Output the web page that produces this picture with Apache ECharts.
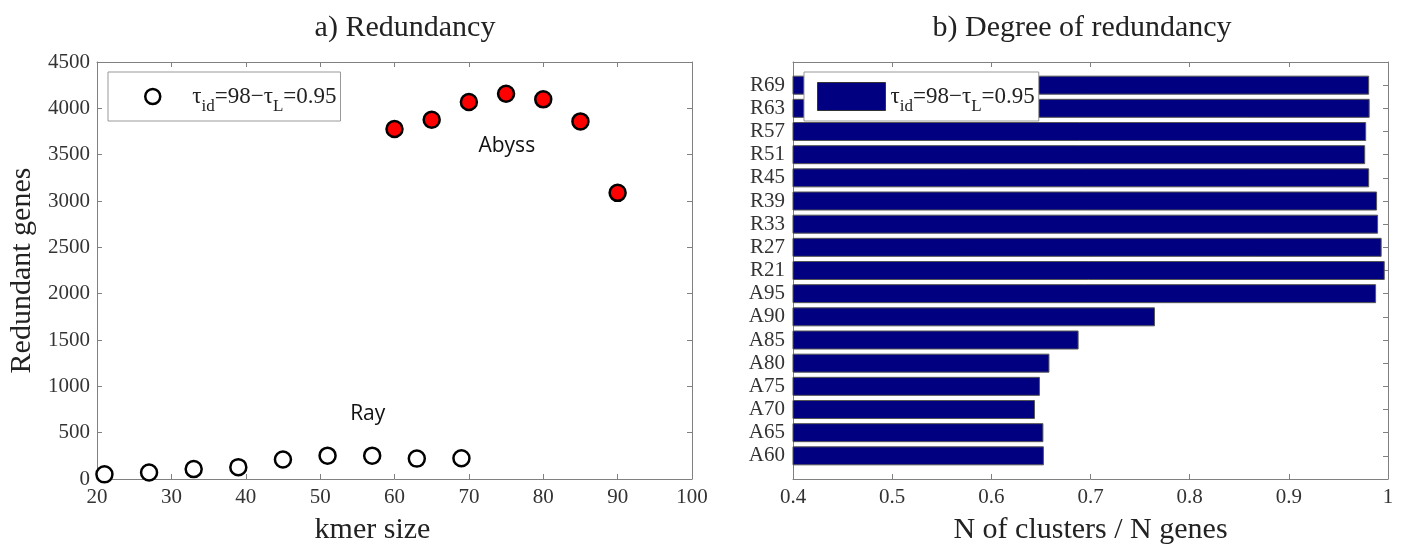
<!DOCTYPE html>
<html>
<head>
<meta charset="utf-8">
<script src="https://cdn.jsdelivr.net/npm/echarts@6/dist/echarts.min.js"></script>
<style>html,body{margin:0;padding:0;background:#fff}#c{width:1406px;height:550px}</style>
</head>
<body>
<div id="c"></div>
<script>
// ---- data ----
const kmerRay = [21, 27, 33, 39, 45, 51, 57, 63, 69];
const rayRedundant = [50, 71, 107, 128, 210, 252, 252, 220, 224];
const kmerAbyss = [60, 65, 70, 75, 80, 85, 90];
const abyssRedundant = [3777, 3877, 4069, 4158, 4097, 3859, 3088];
const assemblies = ['A60','A65','A70','A75','A80','A85','A90','A95','R21','R27','R33','R39','R45','R51','R57','R63','R69'];
const clusterRatio = [0.653, 0.6525, 0.644, 0.649, 0.6586, 0.688, 0.765, 0.988, 0.9967, 0.9936, 0.990, 0.989, 0.981, 0.977, 0.978, 0.9815, 0.981];
const legendText = '{a|τ}{s|id}{t|=98−τ}{s|L}{t|=0.95}';

// ---- chart ----
const SERIF = 'Liberation Serif';
const AX = '#808080';
const LAB = '#333';
const chart = echarts.init(document.getElementById('c'), null, {renderer: 'canvas'});

const catData = [''].concat(assemblies, ['']);
const barData = [null].concat(clusterRatio, [null]);

function mirrorValueAxis(grid, pos, min, max, interval) {
  return {gridIndex: grid, type: 'value', position: pos, min: min, max: max, interval: interval,
    axisLine: {show: true, onZero: false, lineStyle: {color: AX, width: 1}},
    axisTick: {show: true, inside: true, length: 5, lineStyle: {color: AX}},
    axisLabel: {show: false}, splitLine: {show: false}};
}
const richStyles = {
  a: {fontFamily: SERIF, fontSize: 23, color: '#222', lineHeight: 24, padding: [0, 0, 0, 22]},
  t: {fontFamily: SERIF, fontSize: 23, color: '#222', lineHeight: 24},
  s: {fontFamily: SERIF, fontSize: 17, color: '#222', lineHeight: 14, padding: [20, 0, 0, 0]}
};
const richStyles2 = {
  a: {fontFamily: SERIF, fontSize: 23, color: '#222', lineHeight: 24},
  t: richStyles.t, s: richStyles.s
};

chart.setOption({
  animation: false,
  backgroundColor: '#fff',
  title: [
    {text: 'a) Redundancy', left: 400, top: 8, textAlign: 'center',
     textStyle: {fontFamily: SERIF, fontSize: 30, fontWeight: 'normal', color: '#222'}},
    {text: 'b) Degree of redundancy', left: 1077, top: 8, textAlign: 'center',
     textStyle: {fontFamily: SERIF, fontSize: 30, fontWeight: 'normal', color: '#222'}}
  ],
  grid: [
    {left: 97, top: 62, width: 595, height: 421},
    {left: 793, top: 62, width: 595, height: 421}
  ],
  legend: [
    {data: ['ray'], left: 108, top: 72, orient: 'horizontal', selectedMode: false,
     padding: [6, 4, 6, 36], itemWidth: 25, itemHeight: 15, borderColor: '#999', borderWidth: 1,
     itemStyle: {borderWidth: 2.5, borderColor: '#000', color: '#fff'},
     backgroundColor: '#fff', formatter: () => legendText, textStyle: {rich: richStyles}},
    {data: ['bar'], left: 804, top: 72, orient: 'horizontal', selectedMode: false, icon: 'rect',
     padding: [6, 4, 6, 13], itemWidth: 68, itemHeight: 28, borderColor: '#999', borderWidth: 1,
     itemStyle: {borderWidth: 1, borderColor: '#333', color: '#000080'},
     backgroundColor: '#fff', formatter: () => legendText, textStyle: {rich: richStyles2}}
  ],
  xAxis: [
    {gridIndex: 0, type: 'value', position: 'bottom', min: 20, max: 100, interval: 10,
     axisLine: {show: true, onZero: false, lineStyle: {color: AX}},
     axisTick: {show: true, inside: true, length: 5, lineStyle: {color: AX}},
     axisLabel: {fontFamily: SERIF, fontSize: 21, color: LAB, margin: 8},
     splitLine: {show: false},
     name: 'kmer size', nameLocation: 'middle', nameGap: 36,
     nameTextStyle: {fontFamily: SERIF, fontSize: 30, color: '#222', padding: [0, 44, 0, 0]}},
    mirrorValueAxis(0, 'top', 20, 100, 10),
    {gridIndex: 1, type: 'value', position: 'bottom', min: 0.4, max: 1, interval: 0.1,
     axisLine: {show: true, onZero: false, lineStyle: {color: AX}},
     axisTick: {show: true, inside: true, length: 5, lineStyle: {color: AX}},
     axisLabel: {fontFamily: SERIF, fontSize: 21, color: LAB, margin: 8},
     splitLine: {show: false},
     name: 'N of clusters / N genes', nameLocation: 'middle', nameGap: 36,
     nameTextStyle: {fontFamily: SERIF, fontSize: 30, color: '#222'}},
    mirrorValueAxis(1, 'top', 0.4, 1, 0.1)
  ],
  yAxis: [
    {gridIndex: 0, type: 'value', position: 'left', min: 0, max: 4500, interval: 500,
     axisLine: {show: true, onZero: false, lineStyle: {color: AX}},
     axisTick: {show: true, inside: true, length: 5, lineStyle: {color: AX}},
     axisLabel: {fontFamily: SERIF, fontSize: 21, color: LAB, margin: 7, formatter: v => String(v)},
     splitLine: {show: false},
     name: 'Redundant genes', nameLocation: 'middle', nameGap: 60,
     nameTextStyle: {fontFamily: SERIF, fontSize: 30, color: '#222'}},
    mirrorValueAxis(0, 'right', 0, 4500, 500),
    {gridIndex: 1, type: 'category', position: 'left', data: catData, boundaryGap: false,
     axisLine: {show: true, onZero: false, lineStyle: {color: AX}},
     axisTick: {show: true, inside: true, length: 5, interval: 0, lineStyle: {color: AX}},
     axisLabel: {fontFamily: SERIF, fontSize: 21, color: LAB, margin: 8, interval: 0},
     splitLine: {show: false}},
    {gridIndex: 1, type: 'category', position: 'right', data: catData, boundaryGap: false,
     axisLine: {show: true, onZero: false, lineStyle: {color: AX}},
     axisTick: {show: true, inside: true, length: 5, interval: 0, lineStyle: {color: AX}},
     axisLabel: {show: false}, splitLine: {show: false}}
  ],
  series: [
    {name: 'ray', type: 'scatter', xAxisIndex: 0, yAxisIndex: 0,
     data: kmerRay.map((k, i) => [k, rayRedundant[i]]),
     symbol: 'circle', symbolSize: 16,
     itemStyle: {color: '#fff', borderColor: '#000', borderWidth: 2.5, opacity: 1},
     markPoint: {symbol: 'circle', symbolSize: 1, itemStyle: {color: 'rgba(0,0,0,0)'},
       label: {show: true, position: 'inside', formatter: '{b}', fontFamily: 'Open Sans', fontSize: 21, color: '#111'},
       data: [{name: 'Ray', coord: [56.4, 703]}]}},
    {name: 'abyss', type: 'scatter', xAxisIndex: 0, yAxisIndex: 0,
     data: kmerAbyss.map((k, i) => [k, abyssRedundant[i]]),
     symbol: 'circle', symbolSize: 16,
     itemStyle: {color: '#ff0000', borderColor: '#000', borderWidth: 2.5, opacity: 1},
     markPoint: {symbol: 'circle', symbolSize: 1, itemStyle: {color: 'rgba(0,0,0,0)'},
       label: {show: true, position: 'inside', formatter: '{b}', fontFamily: 'Open Sans', fontSize: 21, color: '#111'},
       data: [{name: 'Abyss', coord: [75.1, 3595]}]}},
    {name: 'bar', type: 'bar', xAxisIndex: 2, yAxisIndex: 2, data: barData, clip: true,
     barWidth: 19,
     itemStyle: {color: '#000080', borderColor: '#555', borderWidth: 1}}
  ]
});
</script>
</body>
</html>
